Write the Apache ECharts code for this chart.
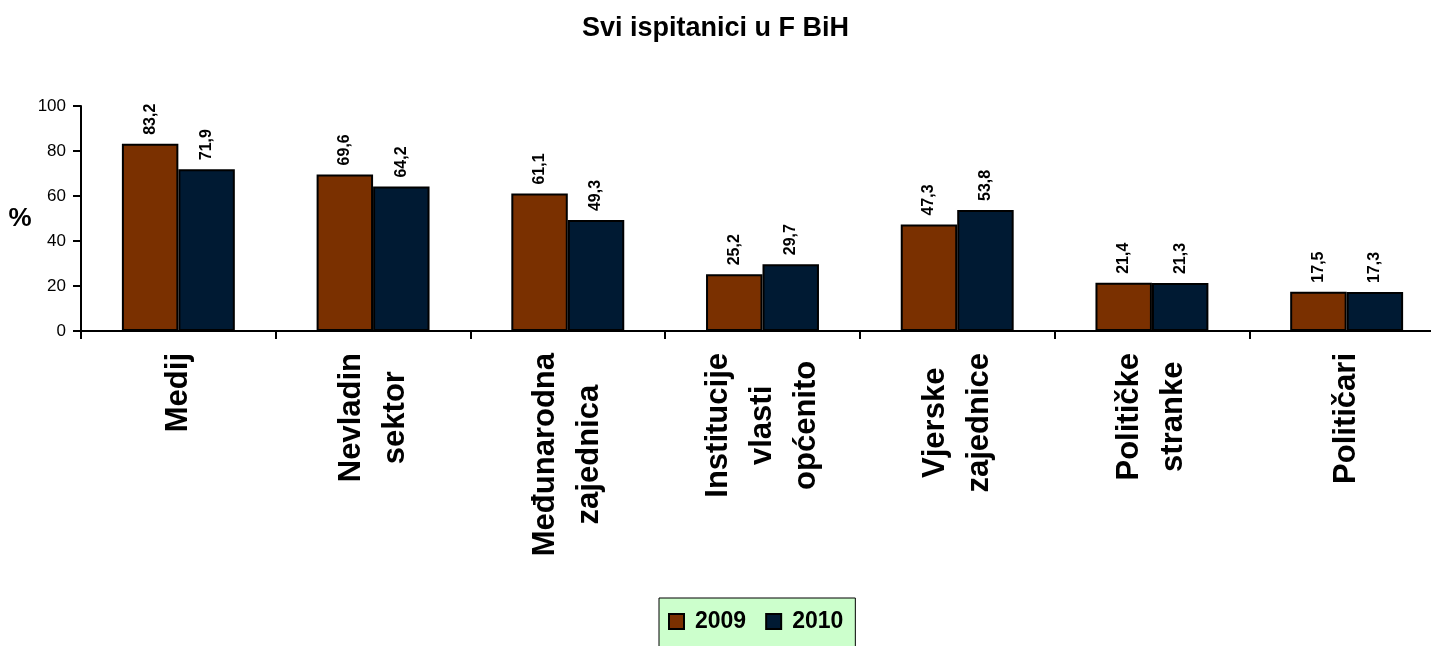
<!DOCTYPE html>
<html>
<head>
  <meta charset="utf-8">
  <title>Svi ispitanici u F BiH</title>
  <script src="https://cdn.jsdelivr.net/npm/echarts@6/dist/echarts.min.js"></script>
  <style>
    html, body { margin: 0; padding: 0; background: #fff; }
    #chart { width: 1431px; height: 646px; }
  </style>
</head>
<body>
  <div id="chart"></div>
  <script>
    var categories = ['Medij', 'Nevladin\nsektor', 'Međunarodna\nzajednica', 'Institucije\nvlasti\nopćenito',
      'Vjerske\nzajednice', 'Političke\nstranke', 'Političari'];
    var values2009 = [83.2, 69.6, 61.1, 25.2, 47.3, 21.4, 17.5];
    var values2010 = [71.9, 64.2, 49.3, 29.7, 53.8, 21.3, 17.3];
    var yTicks = { min: 0, max: 100, interval: 20 };

    var font = 'Arial, "Liberation Sans", sans-serif';

    function commaLabel(p) {
      return String(p.value).replace('.', ',');
    }

    var barLabel = {
      show: true,
      position: 'top',
      rotate: 90,
      align: 'left',
      verticalAlign: 'middle',
      distance: 9,
      fontFamily: font,
      fontSize: 16,
      fontWeight: 'bold',
      color: '#000',
      formatter: commaLabel
    };

    var chart = echarts.init(document.getElementById('chart'));
    var option = {
      backgroundColor: '#fff',
      animation: false,
      title: {
        text: 'Svi ispitanici u F BiH',
        left: 'center',
        top: 10,
        textStyle: { fontFamily: font, fontSize: 27, fontWeight: 'bold', color: '#000' }
      },
      legend: {
        data: ['2009', '2010'],
        left: 659,
        top: 598,
        padding: [12, 12, 20, 9],
        backgroundColor: '#ccffcc',
        borderColor: '#000',
        borderWidth: 1,
        itemWidth: 15,
        itemHeight: 15,
        itemGap: 19,
        icon: 'rect',
        textStyle: { fontFamily: font, fontSize: 23, fontWeight: 'bold', color: '#000', padding: [0, 0, 0, 6] }
      },
      grid: {
        left: 81,
        top: 106,
        width: 1363,
        height: 225,
        containLabel: false,
        outerBoundsMode: 'none'
      },
      xAxis: {
        type: 'category',
        data: categories,
        axisLine: { show: true, lineStyle: { color: '#000', width: 2 } },
        axisTick: { show: true, length: 8, lineStyle: { color: '#000', width: 2 } },
        axisLabel: {
          interval: 0,
          rotate: 90,
          margin: 22,
          color: '#000',
          fontFamily: font,
          fontSize: 31,
          fontWeight: 'bold',
          lineHeight: 44,
          formatter: function (v) {
            return v.split('\n').map(function (s) { return '{c|' + s + '}'; }).join('\n');
          },
          rich: {
            c: { align: 'center', fontFamily: font, fontSize: 31, fontWeight: 'bold', color: '#000', lineHeight: 44 }
          }
        }
      },
      yAxis: {
        type: 'value',
        min: yTicks.min,
        max: yTicks.max,
        interval: yTicks.interval,
        name: '%',
        nameLocation: 'middle',
        nameRotate: 0,
        nameGap: 48,
        nameTextStyle: { fontFamily: font, fontSize: 26, fontWeight: 'bold', color: '#000' },
        axisLine: { show: true, lineStyle: { color: '#000', width: 2 } },
        axisTick: { show: true, length: 8, lineStyle: { color: '#000', width: 2 } },
        splitLine: { show: false },
        axisLabel: { margin: 15, color: '#000', fontFamily: font, fontSize: 17 }
      },
      series: [{
        name: '2009',
        type: 'bar',
        data: values2009,
        barGap: '0%',
        barCategoryGap: '42%',
        itemStyle: { color: '#7a3000', borderColor: '#000', borderWidth: 2 },
        label: barLabel
      }, {
        name: '2010',
        type: 'bar',
        data: values2010,
        itemStyle: { color: '#001a33', borderColor: '#000', borderWidth: 2 },
        label: barLabel
      }]
    };
    chart.setOption(option);
  </script>
</body>
</html>
